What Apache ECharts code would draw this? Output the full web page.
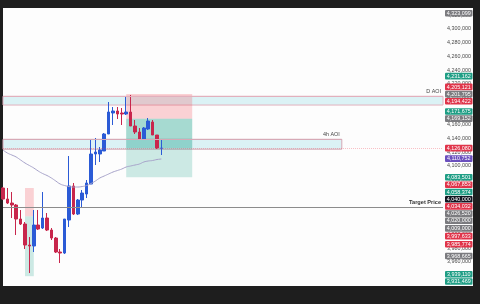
<!DOCTYPE html>
<html>
<head>
<meta charset="utf-8">
<script src="https://cdn.jsdelivr.net/npm/echarts@6/dist/echarts.min.js"></script>
<style>
html,body{margin:0;padding:0;background:#1e1e1e;}
#panel{position:absolute;left:3px;top:8px;width:470px;height:278px;background:#fdfdfd;}
#main{position:absolute;left:0;top:0;width:480px;height:304px;}
</style>
</head>
<body>
<div id="panel"></div>
<div id="main"></div>
<script>
// candles, oldest first
var opens  = [4067860,4051800,4045960,4043040,4022600,4015300,3984640,3983180,4013840,4009460,
              4024060,4006540,3994860,3974420,3972960,4021140,4070780,4029900,4050340,4059100,
              4073700,4117500,4117500,4121880,4146700,4177360,4180280,4177360,4175900,4178820,
              4158380,4149620,4139400,4154000,4164220,4145240,4125800];
var closes = [4051800,4045960,4043040,4022600,4015300,3984640,3983180,4013840,4008000,4024060,
              4006540,3994860,3974420,3972960,4022600,4070780,4029900,4050340,4060560,4075160,
              4117500,4120420,4123340,4146700,4178820,4180280,4175900,4175900,4178820,4158380,
              4149620,4139400,4155460,4165680,4145240,4126260,4126080];
var lows   = [4050300,4044500,4024060,3999240,4013840,3978800,3943760,3974420,4006540,4008000,
              4005080,3991940,3972960,3958360,3971500,4010920,4028440,4028440,4040120,4053260,
              4073700,4101440,4105820,4121880,4146700,4159840,4168600,4159840,4174440,4158380,
              4146700,4137940,4137940,4152540,4145240,4124800,4116040];
var highs  = [4069300,4067860,4062020,4044500,4035740,4018220,3996320,4035740,4035740,4062020,
              4031360,4009460,3996320,3978800,4022600,4114580,4075160,4051800,4064940,4079540,
              4139400,4140860,4127720,4148160,4193420,4186120,4186120,4184660,4200720,4203640,
              4167140,4155460,4156920,4170060,4167140,4145240,4137940];
var maValues = [4123340,4118960,4116040,4113120,4108740,4104360,4100710,4097060,4092680,4089030,
                4086110,4082460,4078080,4073700,4071510,4070050,4069320,4069320,4070050,4071510,
                4074430,4078080,4082460,4085380,4088300,4091220,4093410,4095600,4098520,4099980,
                4101440,4102900,4105820,4107280,4108010,4109470,4110200];

// price tags on the right scale
var tagValues = [4323099,4231162,4205121,4201795,4194422,4171675,4169152,4126080,4110752,4083501,
                 4067853,4058374,4040000,4034032,4026520,4020000,4009000,3997633,3985774,3968665,
                 3939110,3931469];
var tagColors = ['#7b7b7f','#1f9e85','#e0344a','#7b7b7f','#e0344a','#1f9e85','#7b7b7f','#e0344a','#6a4fbd','#1f9e85',
                 '#e0344a','#1f9e85','#131722','#e0344a','#7b7b7f','#7b7b7f','#7b7b7f','#e0344a','#e0344a','#7b7b7f',
                 '#1f9e85','#1f9e85'];

// zones
var dAoi = [4201795, 4189000];
var h4Aoi = [4139000, 4124500];
var shortRight = {stop: 4205121, entry: 4169152, target: 4083501, last: 4126080};
var shortLeft = {stop: 4067853, entry: 4026520, target: 3939110};
var targetPrice = 4040000;

var cats = [];
for (var i = 0; i <= 100; i++) cats.push(String(i));
var candles = [];
for (var i = 0; i < opens.length; i++) candles.push([opens[i], closes[i], lows[i], highs[i]]);

var pink = 'rgba(242,54,69,0.22)';
var teal = 'rgba(8,153,129,0.2)';
var band = 'rgba(178,228,236,0.45)';

var myChart = echarts.init(document.getElementById('main'));
var option = {
  animation: false,
  grid: {left: 3, right: 37, top: 1.6, bottom: 14.7},
  xAxis: {type: 'category', data: cats, boundaryGap: false, show: false},
  yAxis: {
    type: 'value', position: 'right', min: 3920000, max: 4340000, interval: 20000,
    splitLine: {show: false}, axisLine: {show: false}, axisTick: {show: false},
    axisLabel: {
      showMinLabel: false, showMaxLabel: false, margin: 4,
      fontSize: 5.4, color: '#4a4a4a', fontFamily: 'Liberation Sans',
      formatter: function (v) { return echarts.format.addCommas(v); }
    }
  },
  series: [
    {
      type: 'candlestick',
      data: candles,
      barWidth: 3,
      itemStyle: {color: '#2b5bd6', borderColor: '#2b5bd6', color0: '#c8264c', borderColor0: '#c8264c', borderWidth: 1},
      markArea: {
        silent: true,
        data: [
          [{xAxis: 0, yAxis: dAoi[0], itemStyle: {color: band, borderColor: '#e2b0bd', borderWidth: 1}}, {xAxis: 100, yAxis: dAoi[1]}],
          [{xAxis: 0, yAxis: h4Aoi[0], itemStyle: {color: band, borderColor: '#d6a9b6', borderWidth: 1}}, {xAxis: 77, yAxis: h4Aoi[1]}],
          [{xAxis: 28, yAxis: shortRight.stop, itemStyle: {color: pink}}, {xAxis: 43, yAxis: shortRight.entry}],
          [{xAxis: 28, yAxis: shortRight.entry, itemStyle: {color: teal}}, {xAxis: 43, yAxis: shortRight.target}],
          [{xAxis: 28, yAxis: shortRight.entry, itemStyle: {color: teal}}, {xAxis: 43, yAxis: shortRight.last}],
          [{xAxis: 5, yAxis: shortLeft.stop, itemStyle: {color: pink}}, {xAxis: 7, yAxis: shortLeft.entry}],
          [{xAxis: 5, yAxis: shortLeft.entry, itemStyle: {color: teal}}, {xAxis: 7, yAxis: shortLeft.target}]
        ]
      },
      markLine: {
        silent: true,
        symbol: 'none',
        data: [
          [{coord: [0, dAoi[0]], lineStyle: {color: '#e2b0bd', width: 1, type: 'solid'},
            label: {show: true, position: 'insideEndTop', formatter: 'D AOI', fontSize: 5.4, color: '#444', distance: 2}},
           {coord: [100, dAoi[0]]}],
          [{coord: [0, h4Aoi[0]], lineStyle: {color: '#d6a9b6', width: 1, type: 'solid'},
            label: {show: true, position: 'insideEndTop', formatter: '4h AOI', fontSize: 5.4, color: '#444', distance: 2}},
           {coord: [77, h4Aoi[0]]}],
          {yAxis: shortRight.last, lineStyle: {color: 'rgba(242,54,69,0.3)', width: 1, type: 'dotted'}, label: {show: false}},
          {yAxis: targetPrice, lineStyle: {color: '#8c8c8c', width: 1, type: 'solid'},
           label: {show: true, position: 'insideEndTop', formatter: 'Target Price', fontSize: 5.6, fontWeight: 'bold', color: '#333', distance: 2}}
        ]
      }
    },
    {
      type: 'line',
      data: maValues,
      smooth: true,
      symbol: 'none',
      lineStyle: {color: '#a5a1c8', width: 1}
    }
  ]
};
myChart.setOption(option);

// stack the tags upward from the lowest so they do not overlap
var tagH = 7.2;
var ys = tagValues.map(function (v) { return myChart.convertToPixel({yAxisIndex: 0}, v); });
var order = ys.map(function (y, i) { return i; }).sort(function (a, b) { return ys[b] - ys[a]; });
var placed = [];
var last = Infinity;
order.forEach(function (i) {
  var y = Math.min(ys[i], last - tagH);
  placed[i] = y;
  last = y;
});
var g = [];
tagValues.forEach(function (v, i) {
  g.push({type: 'rect', z: 100, shape: {x: 445, y: placed[i] - 3.3, width: 27.5, height: 6.6, r: 1}, style: {fill: tagColors[i]}});
  g.push({type: 'text', z: 101, x: 458.8, y: placed[i] + 0.2,
    style: {text: echarts.format.addCommas(v), fill: '#fff', fontSize: 5.4, fontFamily: 'Liberation Sans', align: 'center', verticalAlign: 'middle'}});
});
myChart.setOption({graphic: g});
</script>
</body>
</html>
